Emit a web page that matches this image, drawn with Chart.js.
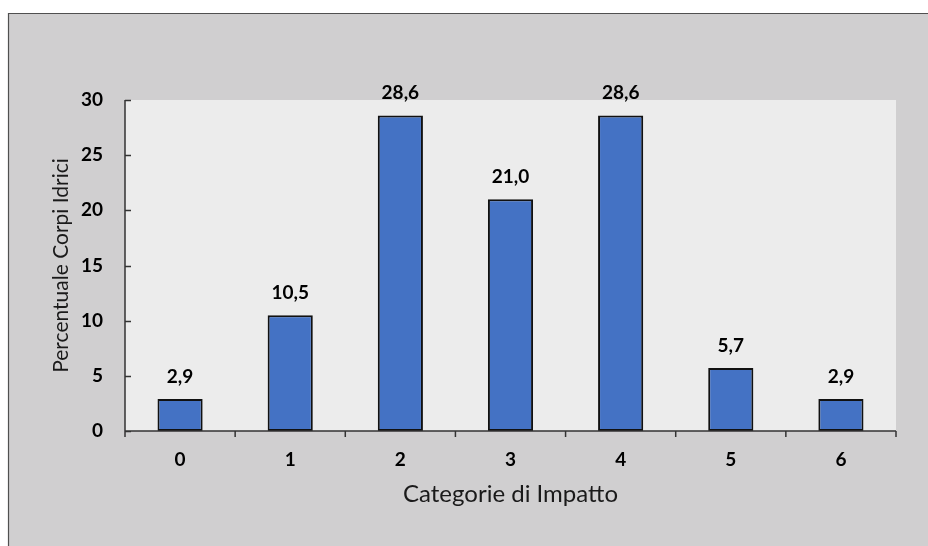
<!DOCTYPE html>
<html>
<head>
<meta charset="utf-8">
<style>
html,body{margin:0;padding:0;background:#fff;}
#wrap{width:928px;height:546px;position:relative;}
</style>
<script src="https://cdn.jsdelivr.net/npm/chart.js@4"></script>
</head>
<body>
<div id="wrap"><canvas id="c" width="928" height="546"></canvas></div>
<script>
const categories = ['0', '1', '2', '3', '4', '5', '6'];
const values = [2.9, 10.5, 28.6, 21.0, 28.6, 5.7, 2.9];
const yTicks = [0, 5, 10, 15, 20, 25, 30];
const yTitle = 'Percentuale Corpi Idrici';
const xTitle = 'Categorie di Impatto';

const fmt = v => v.toFixed(1).replace('.', ',');

const framePlugin = {
  id: 'frame',
  beforeDraw(chart) {
    const ctx = chart.ctx;
    const a = chart.chartArea;
    ctx.save();
    ctx.fillStyle = '#ffffff';
    ctx.fillRect(0, 0, chart.width, chart.height);
    ctx.fillStyle = '#d0cfd0';
    ctx.fillRect(8, 13, chart.width - 8, chart.height - 13);
    ctx.strokeStyle = '#505050';
    ctx.lineWidth = 1.2;
    ctx.beginPath();
    ctx.moveTo(8.5, chart.height);
    ctx.lineTo(8.5, 13.5);
    ctx.lineTo(chart.width, 13.5);
    ctx.stroke();
    ctx.fillStyle = '#ececec';
    ctx.fillRect(a.left, a.top, a.right - a.left, a.bottom - a.top);
    ctx.restore();
  },
  afterDatasetsDraw(chart) {
    const ctx = chart.ctx;
    const a = chart.chartArea;
    const ys = chart.scales.y;
    ctx.save();
    ctx.strokeStyle = '#333333';
    ctx.lineWidth = 1.5;
    ctx.beginPath();
    ctx.moveTo(a.left, a.top);
    ctx.lineTo(a.left, a.bottom);
    ctx.lineTo(a.right, a.bottom);
    yTicks.forEach(t => {
      const y = Math.round(ys.getPixelForValue(t)) + 0.5;
      ctx.moveTo(a.left, y);
      ctx.lineTo(a.left + 6, y);
    });
    const n = categories.length;
    for (let i = 0; i <= n; i++) {
      const x = a.left + (a.right - a.left) * i / n;
      ctx.moveTo(x, a.bottom);
      ctx.lineTo(x, a.bottom + 6);
    }
    ctx.stroke();
    ctx.fillStyle = '#000';
    ctx.font = 'bold 19px Lato';
    ctx.textAlign = 'center';
    ctx.textBaseline = 'alphabetic';
    const meta = chart.getDatasetMeta(0);
    meta.data.forEach((bar, i) => {
      ctx.fillText(fmt(values[i]), bar.x, bar.y - 16);
    });
    ctx.restore();
  }
};

new Chart(document.getElementById('c'), {
  type: 'bar',
  data: {
    labels: categories,
    datasets: [{
      data: values,
      backgroundColor: '#4472c4',
      borderColor: '#111111',
      borderWidth: 2,
      borderSkipped: false,
      barPercentage: 0.41,
      categoryPercentage: 1.0
    }]
  },
  options: {
    responsive: false,
    animation: false,
    devicePixelRatio: 1,
    layout: { padding: { left: 0, top: 100, right: 32, bottom: 0 } },
    plugins: { legend: { display: false }, tooltip: { enabled: false } },
    scales: {
      x: {
        grid: { display: false, drawTicks: false },
        border: { display: false },
        ticks: { color: '#000', font: { family: 'Lato', size: 19, weight: 'bold' }, padding: 17, maxRotation: 0 },
        title: { display: true, text: xTitle, color: '#1a1a1a', font: { family: 'Lato', size: 24 }, padding: { top: 0, bottom: 37 } },
        afterFit(s) { s.height = 115; }
      },
      y: {
        min: 0, max: 30,
        grid: { display: false, drawTicks: false },
        border: { display: false },
        ticks: { stepSize: 5, color: '#000', font: { family: 'Lato', size: 19, weight: 'bold' }, padding: 22 },
        title: { display: true, text: yTitle, color: '#1a1a1a', font: { family: 'Lato', size: 21 }, padding: { top: 49, bottom: 0 } },
        afterFit(s) { s.width = 125; }
      }
    }
  },
  plugins: [framePlugin]
});
</script>
</body>
</html>
